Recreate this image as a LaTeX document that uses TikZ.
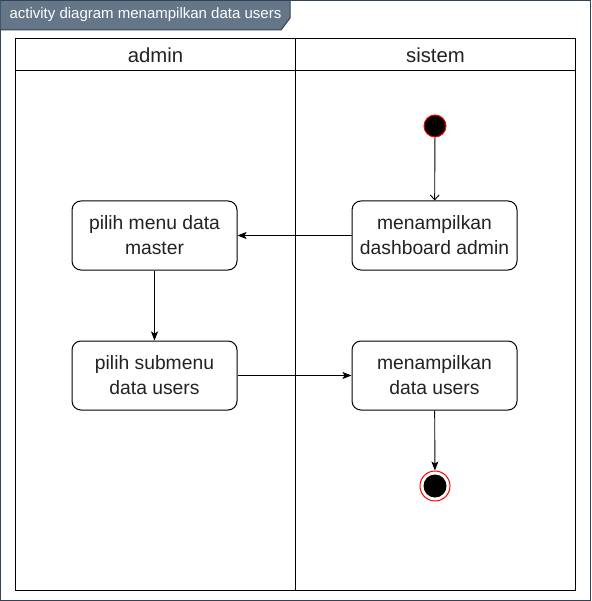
\documentclass[tikz,border=0pt]{standalone}
\usepackage{fontspec}
\setmainfont{Liberation Sans}
\usetikzlibrary{arrows.meta}
\definecolor{framec}{HTML}{314354}
\definecolor{tabc}{HTML}{647687}
\definecolor{txtc}{HTML}{222222}
\begin{document}
\begin{tikzpicture}[x=1pt,y=-1pt,
  act/.style={draw=black, line width=1pt, rounded corners=9pt, minimum width=165pt, minimum height=69pt, align=center, font=\fontsize{19.3}{25}\selectfont, text=txtc, inner sep=2pt, fill=white},
  conn/.style={draw=black, line width=0.9pt, -{Stealth[length=9pt,width=7pt,inset=2pt]}},
  openconn/.style={draw=black, line width=0.9pt, -{Straight Barb[length=5pt,width=9pt]}},
  lane/.style={draw=black, line width=1pt},
  hdr/.style={font=\fontsize{20.3}{24}\selectfont, text=txtc}
]
\useasboundingbox (0,0) rectangle (591,601);
% outer frame
\draw[framec, line width=1pt, fill=white] (0.5,0.5) rectangle (590.5,600.5);
\fill[tabc] (0.5,0.5) -- (290,0.5) -- (290,18) -- (281,30) -- (0.5,30) -- cycle;
\draw[framec, line width=1pt] (0.5,0.5) -- (290,0.5) -- (290,18) -- (281,30) -- (0.5,30);
\node[anchor=west, text=white, font=\fontsize{15}{18}\selectfont] (title) at (6,15) {activity diagram menampilkan data users};
% swimlanes
\draw[lane] (15.5,38.5) rectangle (575.5,590.5);
\draw[lane] (15.5,70.5) -- (575.5,70.5);
\draw[lane] (295.5,38.5) -- (295.5,590.5);
\node[hdr] (hadmin) at (155.5,55) {admin};
\node[hdr] (hsistem) at (435.5,55) {sistem};
% nodes
\node[circle, fill=black, draw=red, line width=1pt, minimum size=22pt, inner sep=0pt] (start) at (435,126) {};
\node[act] (dash) at (434.5,235.5) {menampilkan\\dashboard admin};
\node[act] (pm) at (154.5,235.5) {pilih menu data\\master};
\node[act] (ps) at (154.5,375.5) {pilih submenu\\data users};
\node[act] (du) at (434.5,375.5) {menampilkan\\data users};
\node[circle, draw=red, line width=1pt, minimum size=30pt, inner sep=0pt, fill=white] (end) at (435,486) {};
\fill[black] (end.center) circle (11.5);
% connectors
\draw[openconn] (start) -- (dash);
\draw[conn] (dash) -- (pm);
\draw[conn] (pm) -- (ps);
\draw[conn] (ps) -- (du);
\draw[conn] (du) -- (end);
\end{tikzpicture}
\end{document}
